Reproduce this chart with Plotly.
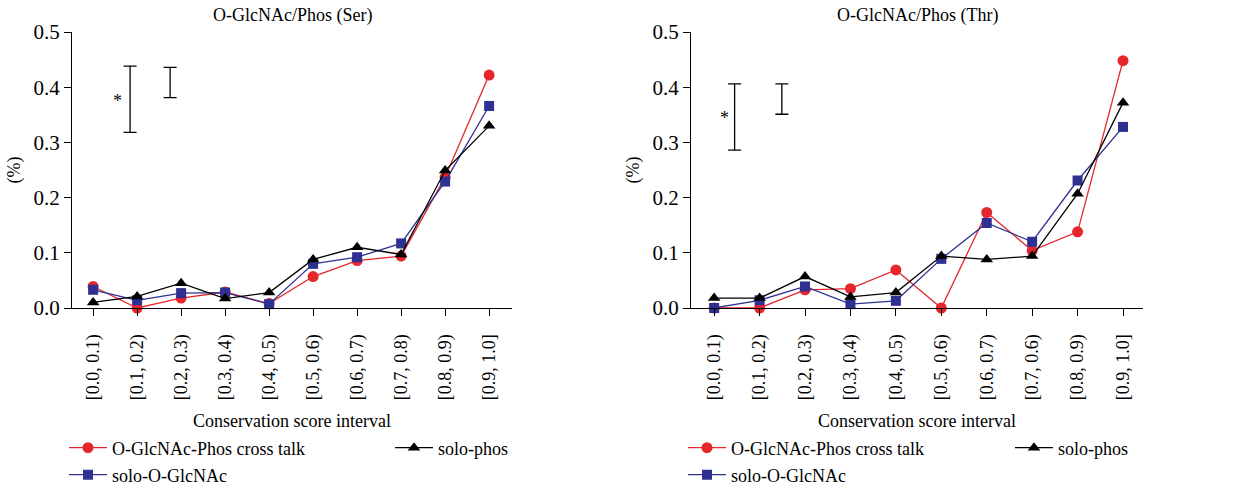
import plotly.graph_objects as go

# ---------------- data ----------------
intervals_ser = ["[0.0, 0.1)", "[0.1, 0.2)", "[0.2, 0.3)", "[0.3, 0.4)", "[0.4, 0.5)",
                 "[0.5, 0.6)", "[0.6, 0.7)", "[0.7, 0.8)", "[0.8, 0.9)", "[0.9, 1.0]"]
intervals_thr = ["[0.0, 0.1)", "[0.1, 0.2)", "[0.2, 0.3)", "[0.3, 0.4)", "[0.4, 0.5)",
                 "[0.5, 0.6)", "[0.6, 0.7)", "[0.7, 0.6)", "[0.8, 0.9)", "[0.9, 1.0]"]
positions = [0, 1, 2, 3, 4, 5, 6, 7, 8, 9]

ser_crosstalk = [0.039, 0.000, 0.018, 0.029, 0.008, 0.057, 0.086, 0.094, 0.237, 0.422]
ser_solo_glc = [0.033, 0.014, 0.027, 0.028, 0.007, 0.080, 0.092, 0.117, 0.229, 0.366]
ser_solo_phos = [0.010, 0.021, 0.045, 0.017, 0.028, 0.088, 0.110, 0.097, 0.249, 0.330]

thr_crosstalk = [0.000, 0.000, 0.033, 0.035, 0.069, 0.000, 0.173, 0.104, 0.138, 0.448]
thr_solo_glc = [0.000, 0.014, 0.039, 0.007, 0.013, 0.089, 0.154, 0.120, 0.231, 0.328]
thr_solo_phos = [0.018, 0.018, 0.057, 0.020, 0.028, 0.094, 0.088, 0.094, 0.207, 0.372]

series_names = ["O-GlcNAc-Phos cross talk", "solo-O-GlcNAc", "solo-phos"]
panel_titles = ["O-GlcNAc/Phos (Ser)", "O-GlcNAc/Phos (Thr)"]
x_title = "Conservation score interval"
y_title = "(%)"
y_ticks = [0.0, 0.1, 0.2, 0.3, 0.4, 0.5]

# significance brackets: (x position, low, high)
ser_brackets = [(0.84, 0.318, 0.438), (1.75, 0.381, 0.436)]
thr_brackets = [(0.45, 0.286, 0.406), (1.49, 0.351, 0.406)]
ser_star = (0.55, 0.375)
thr_star = (0.22, 0.345)

# ---------------- style ----------------
FONT = "'Liberation Serif', 'Times New Roman', Times, serif"
RED = "#e5262b"
BLUE = "#2e3192"
BLACK = "#000000"
W, H = 1241, 486

styles = [
    dict(color=RED, symbol="circle", size=11),
    dict(color=BLUE, symbol="square", size=10),
    dict(color=BLACK, symbol="triangle-up", size=11),
]

fig = go.Figure()

panels = [
    ("x", "y", intervals_ser, [ser_crosstalk, ser_solo_glc, ser_solo_phos], ser_brackets, ser_star),
    ("x2", "y2", intervals_thr, [thr_crosstalk, thr_solo_glc, thr_solo_phos], thr_brackets, thr_star),
]

# legend positions (pixel centres of the legend marker)
legend_pos = [
    [(86, 448), (86, 475), (412, 448)],
    [(705, 448), (705, 475), (1032, 448)],
]

legend_layouts = {}
li = 1
for p, (xa, ya, cats, series, brackets, star) in enumerate(panels):
    for s, (name, vals) in enumerate(zip(series_names, series)):
        lname = "legend" if li == 1 else f"legend{li}"
        fig.add_trace(go.Scatter(
            x=positions, y=vals, xaxis=xa, yaxis=ya, name=name,
            mode="lines+markers", cliponaxis=False,
            line=dict(color=styles[s]["color"], width=1.3),
            marker=dict(color=styles[s]["color"], symbol=styles[s]["symbol"],
                        size=styles[s]["size"]),
            legend=lname, showlegend=True,
        ))
        mx, my = legend_pos[p][s]
        legend_layouts[lname] = dict(
            x=(mx - 22) / W, y=1 - my / H, xanchor="left", yanchor="middle",
            orientation="h", bgcolor="rgba(0,0,0,0)", borderwidth=0,
            font=dict(family=FONT, size=18, color="black"),
            itemwidth=38,
        )
        li += 1
    # significance brackets
    for (bx, lo, hi) in brackets:
        fig.add_trace(go.Scatter(
            x=[bx], y=[(lo + hi) / 2], xaxis=xa, yaxis=ya, mode="markers",
            marker=dict(size=1, opacity=0), showlegend=False, hoverinfo="skip",
            error_y=dict(type="data", symmetric=True, array=[(hi - lo) / 2],
                         color="black", thickness=1.3, width=6.5),
        ))
    fig.add_annotation(x=star[0], y=star[1], xref=xa, yref=ya, text="*",
                       showarrow=False, font=dict(family=FONT, size=18, color="black"))

# axes domains (paper fractions from pixel layout)
y_dom = [1 - 308 / H, 1 - 32 / H]
x_doms = [[72 / W, 512 / W], [691 / W, 1143 / W]]
x_ranges = [[-0.48, 9.52], [-0.51, 9.44]]

axis_font = dict(family=FONT, size=21, color="black")
for p, (xa, ya, cats, series, brackets, star) in enumerate(panels):
    xkey = "xaxis" if p == 0 else "xaxis2"
    ykey = "yaxis" if p == 0 else "yaxis2"
    fig.update_layout({
        xkey: dict(
            domain=x_doms[p], range=x_ranges[p], anchor=ya,
            tickmode="array", tickvals=positions, ticktext=cats,
            tickangle=-90, ticks="outside", ticklen=7, tickwidth=1.3, tickcolor="black",
            showline=True, linecolor="black", linewidth=1.3, showgrid=False, zeroline=False,
            tickfont=dict(family=FONT, size=18, color="black"),
            ticklabelstandoff=11,
            title=dict(text=x_title, font=dict(family=FONT, size=18, color="black"), standoff=15),
            automargin=False,
        ),
        ykey: dict(
            domain=y_dom, range=[0, 0.5], anchor=xa,
            tickmode="array", tickvals=y_ticks, tickformat=".1f",
            ticks="outside", ticklen=7, tickwidth=1.3, tickcolor="black",
            showline=True, linecolor="black", linewidth=1.3, showgrid=False, zeroline=False,
            tickfont=axis_font,
            title=dict(text=y_title, font=dict(family=FONT, size=18, color="black"), standoff=8),
            automargin=False,
        ),
    })
    fig.add_annotation(
        x=(x_doms[p][0] + x_doms[p][1]) / 2, y=1 - 16 / H, xref="paper", yref="paper",
        text=panel_titles[p], showarrow=False, xanchor="center", yanchor="middle",
        font=dict(family=FONT, size=18, color="black"),
    )

fig.update_layout(
    width=W, height=H, margin=dict(l=0, r=0, t=0, b=0, autoexpand=False),
    paper_bgcolor="white", plot_bgcolor="white",
    **legend_layouts,
)

fig.write_html("out.html")
